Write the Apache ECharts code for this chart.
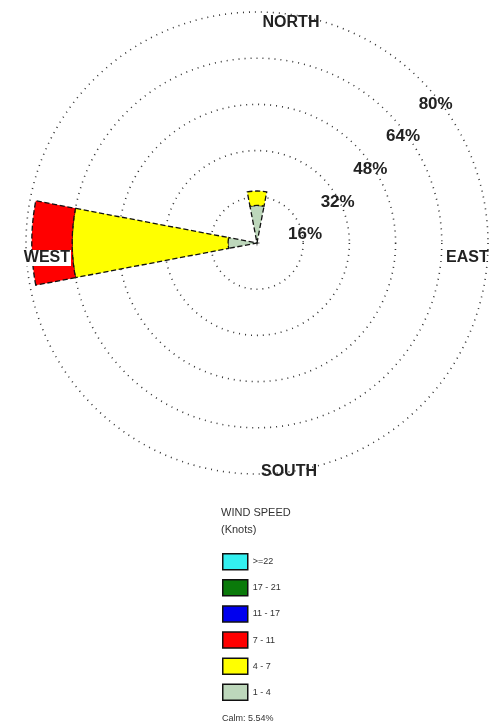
<!DOCTYPE html>
<html><head><meta charset="utf-8">
<script src="https://cdn.jsdelivr.net/npm/echarts@6/dist/echarts.min.js"></script>
<style>html,body{margin:0;padding:0;background:#fff}#c{width:491px;height:725px}</style>
</head><body><div id="c"></div>
<script>
var directions = ['N','NNE','NE','ENE','E','ESE','SE','SSE','S','SSW','SW','WSW','W','WNW','NW','NNW'];
var dirLabels = {N:'NORTH', E:'EAST', S:'SOUTH', W:'WEST'};
var speedBins = ['1 - 4','4 - 7','7 - 11','11 - 17','17 - 21','>=22'];
var binColors = ['#bdd7bb','#ffff00','#ff0000','#0000ee','#0a7a0a','#33f0f0'];
var s1_4   = [13,0,0,0,0,0,0,0,0,0,0,0,10,0,0,0];
var s4_7   = [5,0,0,0,0,0,0,0,0,0,0,0,54,0,0,0];
var s7_11  = [0,0,0,0,0,0,0,0,0,0,0,0,14,0,0,0];
var s11_17 = [0,0,0,0,0,0,0,0,0,0,0,0,0,0,0,0];
var s17_21 = [0,0,0,0,0,0,0,0,0,0,0,0,0,0,0,0];
var s22    = [0,0,0,0,0,0,0,0,0,0,0,0,0,0,0,0];
var ringMax = 80, ringStep = 16;
var calmText = 'Calm: 5.54%';

var allSeries = [s1_4, s4_7, s7_11, s11_17, s17_21, s22];
var ctr = [257, 243], rad = 231;

var dirPad = {
  N: [0,0,26,68],
  S: [35,0,0,64]
};
var angleData = directions.map(function(d){
  if (!dirPad[d]) return d;
  return {value: d, textStyle: {padding: dirPad[d]}};
});

var chart = echarts.init(document.getElementById('c'));
chart.setOption({
  animation: false,
  title: [
    {text: 'WIND SPEED\n(Knots)', left: 216, top: 499,
     textStyle: {fontFamily: 'Liberation Sans', fontSize: 11, fontWeight: 'normal', color: '#333', lineHeight: 17}},
    {text: calmText, left: 217, top: 709,
     textStyle: {fontFamily: 'Liberation Sans', fontSize: 9, fontWeight: 'normal', color: '#333'}}
  ],
  legend: {
    orient: 'vertical', left: 217, top: 548,
    itemWidth: 25, itemHeight: 16, itemGap: 8.6,
    icon: 'rect',
    data: speedBins.slice().reverse(),
    textStyle: {fontFamily: 'Liberation Sans', fontSize: 9, color: '#333'},
    itemStyle: {borderColor: '#111', borderWidth: 1.5, borderType: 'solid'}
  },
  polar: [
    {center: ctr, radius: rad},
    {center: [ctr[0] + 38, ctr[1] + 30], radius: rad}
  ],
  angleAxis: [
    {polarIndex: 0, type: 'category', data: angleData, startAngle: 101.25, clockwise: true, z: 5,
     axisLine: {show: false}, axisTick: {show: false}, splitLine: {show: false},
     axisLabel: {margin: -45, fontFamily: 'Liberation Sans', fontSize: 16, fontWeight: 'bold', color: '#222',
       formatter: function(v){
         if (v === 'E') return '{sp| }\n{e|EAST}';
         if (v === 'W') return '{sp| }\n{w|WEST}';
         return dirLabels[v] || '';
       },
       rich: {
         sp: {lineHeight: 30, fontSize: 10},
         e: {fontFamily: 'Liberation Sans', fontSize: 16, fontWeight: 'bold', color: '#222', lineHeight: 26, padding: [0,0,0,3]},
         w: {fontFamily: 'Liberation Sans', fontSize: 16, fontWeight: 'bold', color: '#222', lineHeight: 28, backgroundColor: '#fff', padding: [0,1,0,3]}
       }}},
    {polarIndex: 1, type: 'value', min: 0, max: 360, startAngle: 45, show: false}
  ],
  radiusAxis: [
    {polarIndex: 0, min: 0, max: ringMax, interval: ringStep,
     axisLine: {show: false}, axisTick: {show: false}, axisLabel: {show: false},
     splitLine: {show: true, lineStyle: {color: '#333', width: 1.6, type: [1, 5]}}},
    {polarIndex: 1, min: 0, max: ringMax, interval: ringStep,
     axisLine: {show: false}, axisTick: {show: false}, splitLine: {show: false},
     axisLabel: {showMinLabel: false, formatter: '{value}%', fontFamily: 'Liberation Sans', fontSize: 17, fontWeight: 'bold', color: '#222'}}
  ],
  series: allSeries.map(function(arr, i){
    return {
      type: 'bar', name: speedBins[i], coordinateSystem: 'polar', polarIndex: 0, stack: 'w',
      barCategoryGap: '4%',
      itemStyle: {color: binColors[i], borderColor: '#111', borderWidth: 1.3, borderType: 'dashed'},
      data: arr.map(function(v){ return v > 0 ? v : '-'; })
    };
  })
});
</script></body></html>
